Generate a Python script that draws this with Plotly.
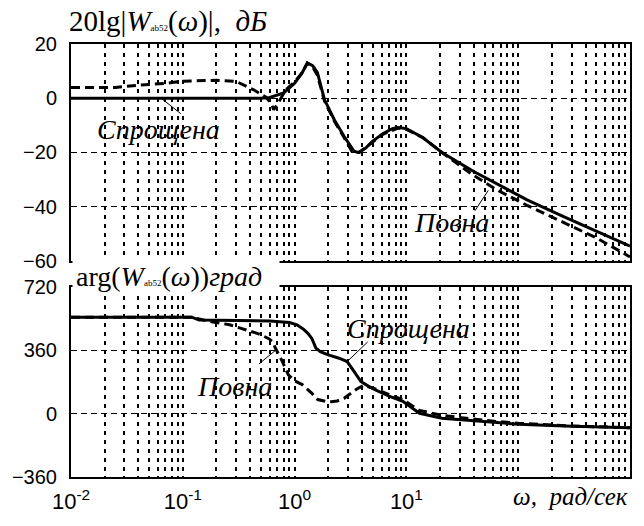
import plotly.graph_objects as go

# ---------------- data ----------------
# magnitude, dB  (solid = "Спрощена", dashed = "Повна")
w_mag_simpl = [0.01, 0.1, 0.5, 0.6, 0.8, 1.0, 1.17, 1.3, 1.45, 1.6, 1.85, 2.27, 2.77,
               3.39, 3.7, 4.3, 5.0, 6.2, 7.5, 8.4, 10, 14, 20.8, 40, 65.8, 120, 249, 500, 1000]
mag_simpl = [0, 0, 0, 0.3, 2, 5.5, 9.4, 13, 12, 9.4, -0.5, -8, -14,
             -19.5, -20, -18.5, -15.8, -13, -11.2, -10.8, -11.2, -14.5, -20, -27, -31.7,
             -37.5, -43.5, -49, -54.5]

w_mag_full = [0.01, 0.025, 0.04, 0.07, 0.1, 0.2, 0.3, 0.43, 0.55, 0.62, 0.65, 0.7, 0.83,
              1.0, 1.17, 1.3, 1.45, 1.6, 1.85, 2.27, 2.77, 3.3, 3.8, 4.5, 6, 8.4, 10, 14,
              20.8, 40, 65.8, 120, 249, 500, 1000]
mag_full = [4, 4, 4.8, 5.5, 6.3, 6.6, 6.2, 3.1, 0.5, -2, -4.2, -2.4, 3,
            6, 9.4, 13, 11.5, 8.5, -1, -8.5, -14.5, -20, -20, -17.5, -13.5, -11, -11.5, -14.5,
            -20, -28.5, -34, -39.5, -45.7, -51.5, -58.5]

# phase, degrees
w_ph_simpl = [0.01, 0.12, 0.14, 0.3, 0.6, 0.9, 1.05, 1.2, 1.32, 1.43, 1.55, 1.7, 1.97, 2.5,
              2.95, 3.4, 3.91, 4.6, 5.4, 7, 9.29, 13.1, 20.8, 49.5, 100, 300, 1000]
ph_simpl = [548, 548, 532, 530, 526, 518, 505, 480, 455, 426, 372, 352, 335, 315,
            296, 240, 183, 155, 132, 100, 70, 2, -26, -45, -60, -72, -80]

w_ph_full = [0.01, 0.12, 0.18, 0.262, 0.37, 0.47, 0.588, 0.635, 0.676, 0.778, 0.879, 1.01,
             1.17, 1.3, 1.43, 1.61, 1.9, 2.13, 2.4, 2.77, 3.15, 3.6, 4.15, 5.4, 7, 9.3,
             13.1, 20.8, 49.5, 100, 300, 1000]
ph_full = [548, 548, 522, 505, 475, 455, 426, 409, 370, 296, 220, 185,
           165, 140, 115, 80, 70, 68, 72, 87, 112, 140, 160, 138, 108, 80,
           18, -10, -38, -55, -70, -80]

x_tickvals = [0.01, 0.1, 1, 10]
x_ticktext = ["10<sup>-2</sup>", "10<sup>-1</sup>", "10<sup>0</sup>", "10<sup>1</sup>"]
x_minor = [m * 10.0 ** d for d in range(-2, 3) for m in range(2, 10)] + [100]
mag_ticks = [-60, -40, -20, 0, 20]
ph_ticks = [-360, 0, 360, 720]

# ---------------- figure ----------------
fig = go.Figure()
line_s = dict(color="black", width=3)
line_f = dict(color="black", width=3, dash="9px,5px")

fig.add_trace(go.Scatter(x=w_mag_simpl, y=mag_simpl, mode="lines", line=line_s,
                         xaxis="x", yaxis="y", name="Спрощена"))
fig.add_trace(go.Scatter(x=w_mag_full, y=mag_full, mode="lines", line=line_f,
                         xaxis="x", yaxis="y", name="Повна"))
fig.add_trace(go.Scatter(x=w_ph_simpl, y=ph_simpl, mode="lines", line=line_s,
                         xaxis="x2", yaxis="y2", name="Спрощена"))
fig.add_trace(go.Scatter(x=w_ph_full, y=ph_full, mode="lines", line=line_f,
                         xaxis="x2", yaxis="y2", name="Повна"))

tickfont = dict(family="Liberation Sans, Arial, sans-serif", size=20, color="black")
xtickfont = dict(family="Liberation Sans, Arial, sans-serif", size=22, color="black")

xcommon = dict(type="log", range=[-2, 3], domain=[0, 1],
               tickmode="array", tickvals=x_tickvals, ticktext=x_ticktext,
               showgrid=True, gridcolor="black", gridwidth=1.5, griddash="4px,5px",
               minor=dict(tickmode="array", tickvals=x_minor, showgrid=True,
                          gridcolor="black", gridwidth=1.5, griddash="4px,5px", ticks=""),
               showline=True, linecolor="black", linewidth=2, mirror=True,
               ticks="", zeroline=False)
ycommon = dict(showgrid=True, gridcolor="black", gridwidth=1, griddash="6px,4px",
               showline=True, linecolor="black", linewidth=2, mirror=True,
               ticks="", zeroline=False, tickfont=tickfont, ticklabelstandoff=8,
               tickmode="array")

fig.update_layout(
    width=644, height=526,
    margin=dict(l=61, r=12, t=44, b=47),
    paper_bgcolor="white", plot_bgcolor="white",
    showlegend=False,
    xaxis=dict(xcommon, anchor="y", showticklabels=False),
    yaxis=dict(ycommon, domain=[0.499, 1.0], range=[-60, 20], tickvals=mag_ticks),
    xaxis2=dict(xcommon, anchor="y2", showticklabels=True, tickfont=xtickfont,
                ticklabelstandoff=4),
    yaxis2=dict(ycommon, domain=[0.0, 0.439], range=[-360, 720], tickvals=ph_ticks),
)

serif = "Liberation Serif, Times New Roman, serif"
sub = "<span style='font-size:9px'>ab52</span>"

ann = [
    # titles
    dict(xref="paper", yref="paper", x=-0.008, y=1.053, xanchor="left", yanchor="middle",
         text="20lg|<i>W</i>" + sub + "(<i>ω</i>)|,  <i>дБ</i>",
         showarrow=False, font=dict(family=serif, size=29, color="black")),
    dict(xref="paper", yref="paper", x=0.002, y=0.464, xanchor="left", yanchor="middle",
         text="arg(<i>W</i>" + sub + "(<i>ω</i>))<i>град</i>  ",
         showarrow=False, bgcolor="white", borderpad=3,
         font=dict(family=serif, size=28, color="black")),
    # x axis title
    dict(xref="paper", yref="paper", x=1.0, y=-0.046, xanchor="right", yanchor="middle",
         text="<i>ω,  рад/сек</i>", showarrow=False,
         font=dict(family=serif, size=25, color="black")),
    # curve labels
    dict(xref="x", yref="y", x=-1.221, y=-11.6, text="<i>Спрощена</i>", showarrow=False,
         font=dict(family=serif, size=28, color="black")),
    dict(xref="x", yref="y", x=1.406, y=-46, text="<i>Повна</i>", showarrow=False,
         font=dict(family=serif, size=28, color="black")),
    dict(xref="x2", yref="y2", x=1.021, y=483, text="<i>Спрощена</i>", showarrow=False,
         font=dict(family=serif, size=28, color="black")),
    dict(xref="x2", yref="y2", x=-0.538, y=155, text="<i>Повна</i>", showarrow=False,
         font=dict(family=serif, size=28, color="black")),
]
fig.update_layout(annotations=ann)

# leader lines from labels to curves
leader = dict(color="black", width=1)
fig.add_shape(type="line", xref="x", yref="y", x0=0.064, y0=0, x1=0.096, y1=-5.7, line=leader)
fig.add_shape(type="line", xref="x", yref="y", x0=54, y0=-34, x1=41, y1=-41.5, line=leader)
fig.add_shape(type="line", xref="x2", yref="y2", x0=3.0, y0=300, x1=4.5, y1=407, line=leader)
fig.add_shape(type="line", xref="x2", yref="y2", x0=0.676, y0=360, x1=0.48, y1=282, line=leader)

fig.write_html("out.html")
